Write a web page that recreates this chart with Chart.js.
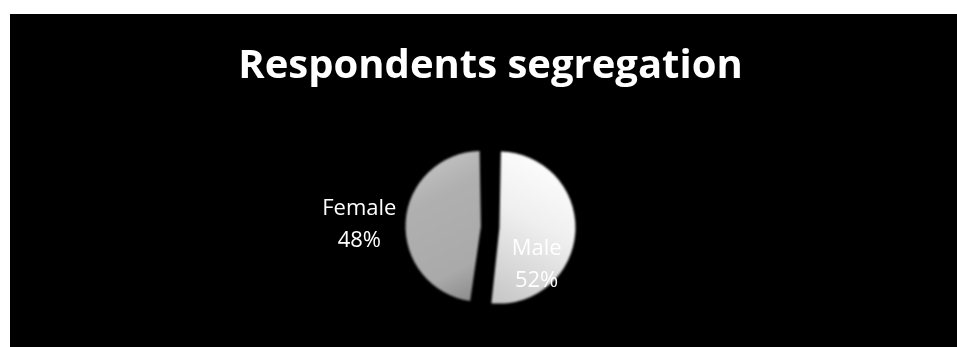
<!DOCTYPE html>
<html>
<head>
<meta charset="utf-8">
<script src="https://cdn.jsdelivr.net/npm/chart.js@4.4.1/dist/chart.umd.min.js"></script>
<style>
  html, body { margin: 0; padding: 0; background: #ffffff; }
  #frame { position: absolute; left: 10px; top: 14px; width: 947px; height: 333px; background: #000000; }
  canvas { display: block; }
</style>
</head>
<body>
<div id="frame"><canvas id="c" width="947" height="333"></canvas></div>
<script>
// Survey split by gender
const categories = ['Male', 'Female'];
const shares = [52, 48];
const chartTitle = 'Respondents segregation';

// Geometry / styling
const SLICE_RADIUS = 67;
const SLICE_OFFSETS = [36, 38.4];           // Chart.js v4 scales arc offset internally
const LABEL_FONT = '22px "Open Sans"';
const LABEL_LINE = 31.7;
// label anchors, in multiples of the radius, relative to each slice's own centre
const LABEL_ANCHORS = [{ dx: 0.42, dy: 0.55 }, { dx: -1.69, dy: -0.02 }];

// Same displacement the arc element applies when drawing an offset slice
function sliceShift(arc, offset) {
  const circ = arc.endAngle - arc.startAngle;
  const o = offset / 4;
  const fix = 1 - Math.sin(Math.min(Math.PI, circ));
  const half = (arc.startAngle + arc.endAngle) / 2;
  const d = o + o * fix;
  return { x: Math.cos(half) * d, y: Math.sin(half) * d };
}

function sliceFill(context) {
  const chart = context.chart;
  const area = chart.chartArea;
  const i = context.dataIndex;
  if (!area) return i === 0 ? '#eeeeee' : '#aaaaaa';
  const cx = (area.left + area.right) / 2;
  const cy = (area.top + area.bottom) / 2;
  const r = SLICE_RADIUS;
  const c = chart.ctx;
  if (i === 0) {
    const g = c.createLinearGradient(cx + 18 + r * 0.7, cy - r, cx + 18 - r * 0.4, cy + r);
    g.addColorStop(0, '#ffffff');
    g.addColorStop(0.45, '#efefef');
    g.addColorStop(1, '#c8c8c8');
    return g;
  }
  const g = c.createLinearGradient(cx - 18 - r * 0.8, cy - r, cx - 18 + r * 0.2, cy + r);
  g.addColorStop(0, '#c6c6c6');
  g.addColorStop(0.3, '#b0b0b0');
  g.addColorStop(0.8, '#aaaaaa');
  g.addColorStop(1, '#909090');
  return g;
}

// Soft edge on the slices only
const softEdges = {
  id: 'softEdges',
  beforeDatasetsDraw(chart) { chart.ctx.save(); chart.ctx.filter = 'blur(1.3px)'; },
  afterDatasetsDraw(chart) { chart.ctx.restore(); }
};

// "Category / value%" labels
const sliceLabels = {
  id: 'sliceLabels',
  afterDraw(chart) {
    const ctx = chart.ctx;
    const meta = chart.getDatasetMeta(0);
    ctx.save();
    ctx.font = LABEL_FONT;
    ctx.fillStyle = '#ffffff';
    ctx.textAlign = 'center';
    ctx.textBaseline = 'middle';
    meta.data.forEach((arc, i) => {
      const p = arc.getProps(['x', 'y', 'startAngle', 'endAngle', 'outerRadius'], true);
      const s = sliceShift(p, SLICE_OFFSETS[i]);
      const a = LABEL_ANCHORS[i];
      const lx = p.x + s.x + a.dx * p.outerRadius;
      const ly = p.y + s.y + a.dy * p.outerRadius;
      ctx.fillText(categories[i], lx, ly - LABEL_LINE / 2);
      ctx.fillText(shares[i] + '%', lx, ly + LABEL_LINE / 2);
    });
    ctx.restore();
  }
};

new Chart(document.getElementById('c'), {
  type: 'pie',
  data: {
    labels: categories,
    datasets: [{
      data: shares,
      backgroundColor: sliceFill,
      borderWidth: 0,
      offset: SLICE_OFFSETS
    }]
  },
  options: {
    responsive: false,
    animation: false,
    devicePixelRatio: 1,
    radius: SLICE_RADIUS,
    layout: { padding: { left: 14, right: 0, top: 0, bottom: 0 } },
    plugins: {
      legend: { display: false },
      tooltip: { enabled: false },
      title: {
        display: true,
        text: chartTitle,
        color: '#ffffff',
        font: { family: '"Open Sans"', weight: 'bold', size: 40, lineHeight: 1.2 },
        padding: { top: 28.6, bottom: 16.4 }
      }
    }
  },
  plugins: [softEdges, sliceLabels]
});
</script>
</body>
</html>
